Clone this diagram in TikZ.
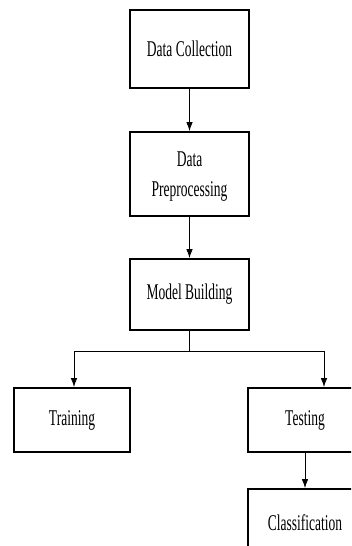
\documentclass[tikz,border=0pt]{standalone}
\usepackage{fontspec}
\setmainfont{Liberation Serif}
\newfontfamily\condserif[FakeStretch=0.6]{Liberation Serif}
\usetikzlibrary{arrows.meta}
\begin{document}
\begin{tikzpicture}[x=1pt,y=-1pt,
  stagebox/.style={draw=black,line width=1.8pt,fill=white,inner sep=0pt,
    align=center,font=\condserif\fontsize{22.5}{30}\selectfont},
  flow/.style={line width=0.8pt,-{Latex[length=9pt,width=6.5pt]}},
  link/.style={line width=0.8pt}]
\useasboundingbox (0,0) rectangle (351,546);
\begin{scope}
\clip (0,0) rectangle (351,546);
\node[stagebox,minimum width=119pt,minimum height=78pt] (collect) at (189.5,49) {Data Collection};
\node[stagebox,minimum width=119pt,minimum height=84pt] (prep) at (189.5,174) {};
\node[font=\condserif\fontsize{22.5}{30}\selectfont,align=center,inner sep=0pt] (preptext) at (189.5,177) {Data\\Preprocessing};
\node[stagebox,minimum width=119pt,minimum height=71pt] (model) at (189.5,294.5) {Model Building};
\node[stagebox,minimum width=116pt,minimum height=64pt] (train) at (72,420) {Training};
\node[stagebox,minimum width=114pt,minimum height=64pt] (test) at (305,420) {Testing};
\node[stagebox,minimum width=114pt,minimum height=68pt] (cls) at (305,523) {Classification};
\coordinate (split) at (189.5,351);
\coordinate (jl) at (74,351);
\coordinate (jr) at (324,351);
\draw[flow] (collect) -- (prep);
\draw[flow] (prep) -- (model);
\draw[link] (model) -- (split);
\draw[link] (jl) -- (jr);
\draw[flow] (jl) -- (jl |- train.north);
\draw[flow] (jr) -- (jr |- test.north);
\draw[flow] (test) -- (cls);
\end{scope}
\end{tikzpicture}
\end{document}
